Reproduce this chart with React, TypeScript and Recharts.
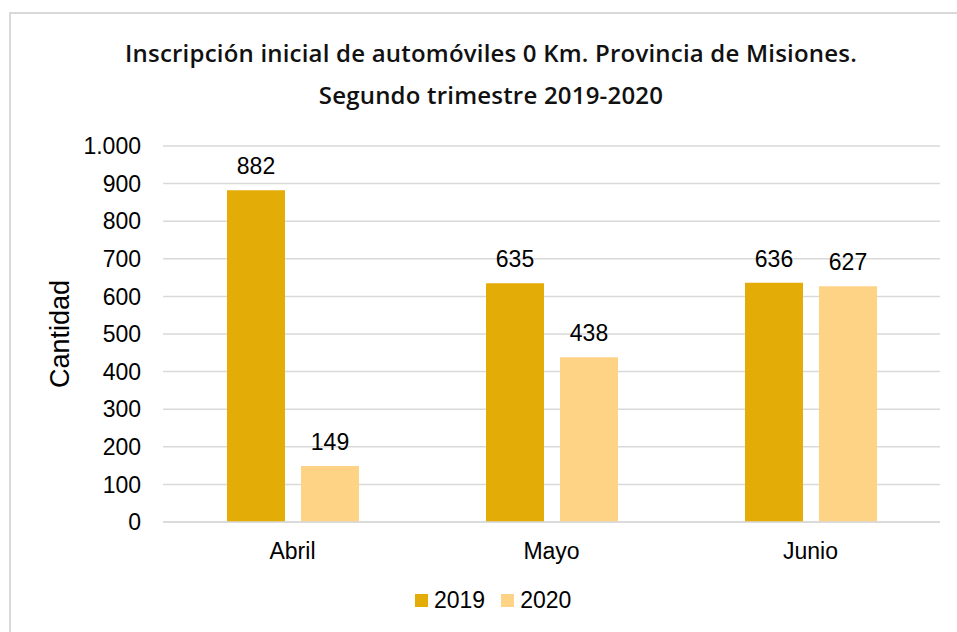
import React from 'react';
import { BarChart, Bar, XAxis, YAxis, CartesianGrid, LabelList } from 'recharts';

const meses = ['Abril', 'Mayo', 'Junio'];
const valores2019 = [882, 635, 636];
const valores2020 = [149, 438, 627];
const ticksY = [0, 100, 200, 300, 400, 500, 600, 700, 800, 900, 1000];

const COLOR_2019 = '#E3AC07';
const COLOR_2020 = '#FED386';
const FONT = 'Arial, "Liberation Sans", sans-serif';

const data = meses.map((mes, i) => ({
  mes,
  a2019: valores2019[i],
  a2020: valores2020[i],
}));

// 1000 -> "1.000"
const fmt = (v: number) => String(v).replace(/\B(?=(\d{3})+(?!\d))/g, '.');

const App: React.FC = () => {
  return (
    <div style={{ position: 'absolute', left: 0, top: 0, width: 957, height: 632, overflow: 'hidden', background: '#fff' }}>
      {/* frame */}
      <div style={{ position: 'absolute', left: 9, top: 12, width: 980, height: 660, border: '2px solid #d9d9d9' }} />

      {/* title */}
      <div
        style={{
          position: 'absolute', left: 0, top: 32, width: 982, textAlign: 'center',
          fontFamily: '"Open Sans", Lato, sans-serif', fontWeight: 600, fontSize: 24, lineHeight: '42px',
          letterSpacing: 0.2, color: '#111',
        }}
      >
        Inscripción inicial de automóviles 0 Km. Provincia de Misiones.
        <br />
        Segundo trimestre 2019-2020
      </div>

      {/* y axis title */}
      <div
        style={{
          position: 'absolute', left: 60, top: 334, transform: 'translate(-50%, -50%) rotate(-90deg)',
          fontFamily: FONT, fontSize: 27, color: '#000', whiteSpace: 'nowrap',
        }}
      >
        Cantidad
      </div>

      <div style={{ position: 'absolute', left: 0, top: 0 }}>
        <BarChart
          width={957}
          height={632}
          data={data}
          margin={{ top: 146, right: 17, left: 103, bottom: 70 }}
          barGap={16}
          barSize={58}
        >
          <CartesianGrid vertical={false} stroke="#d9d9d9" strokeWidth={1.5} />
          <XAxis
            dataKey="mes"
            height={40}
            axisLine={{ stroke: '#d9d9d9', strokeWidth: 1.5 }}
            tickLine={false}
            tickMargin={15}
            tick={{ fill: '#000', fontSize: 23, fontFamily: FONT }}
          />
          <YAxis
            width={60}
            domain={[0, 1000]}
            ticks={ticksY}
            interval={0}
            axisLine={false}
            tickLine={false}
            tickMargin={16}
            tickFormatter={fmt}
            tick={{ fill: '#000', fontSize: 23, fontFamily: FONT }}
          />
          <Bar dataKey="a2019" name="2019" fill={COLOR_2019} isAnimationActive={false}>
            <LabelList dataKey="a2019" position="top" offset={16} style={{ fill: '#000', fontSize: 23, fontFamily: FONT }} />
          </Bar>
          <Bar dataKey="a2020" name="2020" fill={COLOR_2020} isAnimationActive={false}>
            <LabelList dataKey="a2020" position="top" offset={16} style={{ fill: '#000', fontSize: 23, fontFamily: FONT }} />
          </Bar>
        </BarChart>
      </div>

      {/* legend */}
      <div
        style={{
          position: 'absolute', left: 415, top: 587, display: 'flex', alignItems: 'center',
          fontFamily: FONT, fontSize: 23, color: '#000',
        }}
      >
        <span style={{ width: 13, height: 13, background: COLOR_2019, display: 'inline-block', marginRight: 6 }} />
        <span style={{ marginRight: 16 }}>2019</span>
        <span style={{ width: 13, height: 13, background: COLOR_2020, display: 'inline-block', marginRight: 6 }} />
        <span>2020</span>
      </div>
    </div>
  );
};

export default App;
